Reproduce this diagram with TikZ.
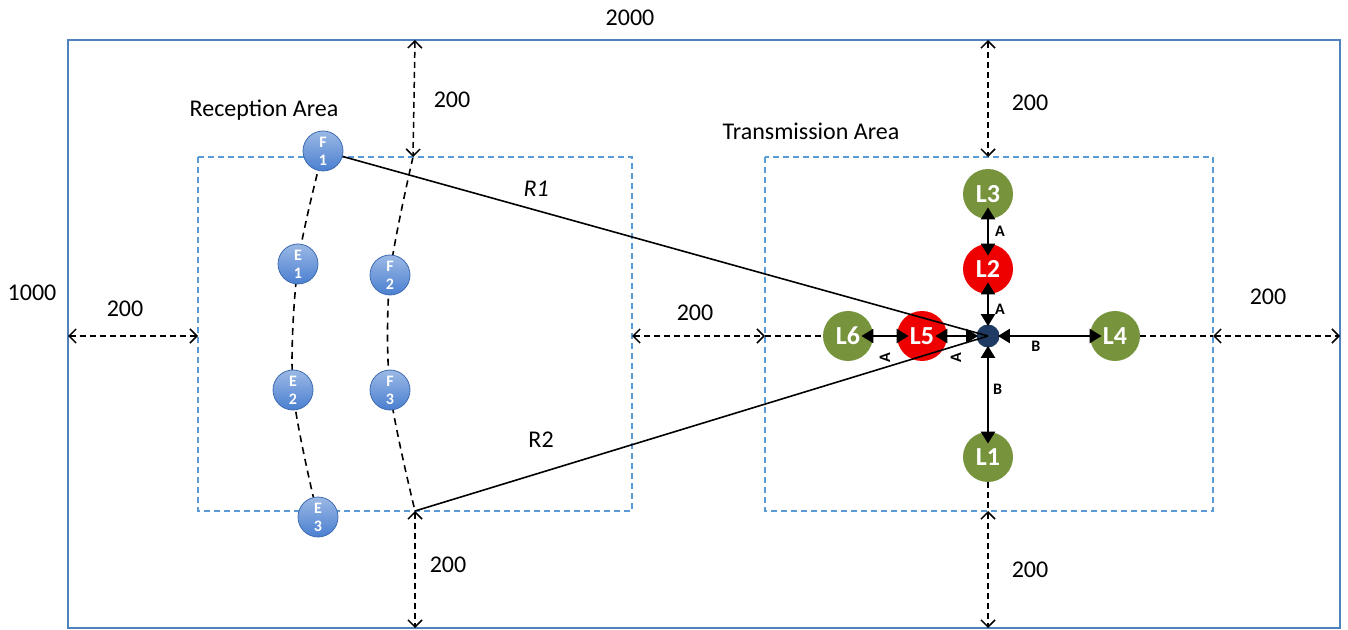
\documentclass[tikz,border=0pt]{standalone}
\usepackage{fontspec}
\setmainfont{Carlito}
\usetikzlibrary{arrows.meta,backgrounds}
\definecolor{frameblue}{HTML}{4F81BD}
\definecolor{areablue}{HTML}{5B9BD5}
\definecolor{ledgreen}{HTML}{77933C}
\definecolor{ledred}{HTML}{EE0000}
\definecolor{hubnavy}{HTML}{1F3B63}
\definecolor{ballblue}{HTML}{4A7FD0}
\tikzset{
  dim/.style={line width=0.75pt,dash pattern=on 3pt off 2pt,
    {Straight Barb[length=3.5pt,width=7pt]}-{Straight Barb[length=3.5pt,width=7pt]}},
  guide/.style={line width=0.75pt,dash pattern=on 3pt off 2pt},
  curve/.style={line width=0.8pt,dash pattern=on 3.5pt off 2.5pt},
  area/.style={draw=areablue,line width=0.8pt,dash pattern=on 3pt off 2pt},
  link/.style={line width=1.2pt,shorten <=-6pt,shorten >=-6pt,
    {Triangle[length=6pt,width=7pt]}-{Triangle[length=6pt,width=7pt]}},
  from hub/.style={shorten <=-1pt},
  to hub/.style={shorten >=-1pt},
  ray/.style={line width=0.8pt},
  ball/.style={circle,minimum size=20pt,inner sep=0pt,top color=ballblue!55!white,
    bottom color=ballblue,draw=ballblue!85!black,line width=0.4pt,text=white,
    align=center,font=\fontsize{8}{9}\selectfont\bfseries},
  led/.style={circle,minimum size=25pt,inner sep=0pt,text=white,
    font=\fontsize{13}{13}\selectfont\bfseries},
  lbl/.style={font=\fontsize{8}{8}\selectfont\bfseries,inner sep=1pt},
  txt/.style={font=\fontsize{12}{14}\selectfont}
}
\begin{document}
\begin{tikzpicture}[x=0.5pt,y=-0.5pt]
    \useasboundingbox (0,0) rectangle (1348,630);
    % outer room and the two areas
    \draw[frameblue,line width=1pt] (68,40) rectangle (1340,628);
    \draw[area] (198,157) rectangle (632,511);
    \draw[area] (765,157) rectangle (1213,511);
    \node[txt] (size w) at (630,18) {2000};
    \node[txt] (size h) at (32,293) {1000};
    \node[txt] (recv) at (264,110) {Reception Area};
    \node[txt] (trans) at (811,131) {Transmission Area};
    % receivers
    \node[ball] (f1) at (323,151) {F\\1};
    \node[ball] (e1) at (298,264) {E\\1};
    \node[ball] (f2) at (390,275) {F\\2};
    \node[ball] (e2) at (293,390) {E\\2};
    \node[ball] (f3) at (390,390) {F\\3};
    \node[ball] (e3) at (318,517) {E\\3};
    \coordinate (rtop) at (413,157);
    \coordinate (rbot) at (415,511);
    % transmitters
    \node[circle,fill=hubnavy,minimum size=11.5pt,inner sep=0pt] (hub) at (988,336) {};
    \node[led,fill=ledgreen] (l3) at (988,194) {L3};
    \node[led,fill=ledred] (l2) at (988,269) {L2};
    \node[led,fill=ledgreen] (l4) at (1115,336) {L4};
    \node[led,fill=ledgreen] (l1) at (988,457) {L1};
    \node[led,fill=ledred] (l5) at (922,336) {L5};
    \node[led,fill=ledgreen] (l6) at (848,336) {L6};
    % arcs through the receivers
    \begin{scope}[on background layer]
      \draw[curve] plot[smooth] coordinates {(f1) (e1) (e2) (e3)};
      \draw[curve] plot[smooth] coordinates {(rtop) (f2) (f3) (rbot)};
    \end{scope}
    % rays
    \draw[ray] (f1) -- node[pos=.3,above=3pt,txt] (r1) {\itshape R1} (hub.center);
    \draw[ray] (rbot) -- node[pos=.22,above=9pt,txt] (r2) {R2} (hub.center);
    % links between the lamps
    \draw[link] (l3) -- node[midway,right=2pt,lbl] {A} (l2);
    \draw[link,to hub] (l2) -- node[midway,right=2pt,lbl] {A} (hub);
    \draw[link,from hub] (hub) -- node[pos=.4,below=1pt,lbl] {B} (l4);
    \draw[link,from hub] (hub) -- node[midway,right=1pt,lbl] {B} (l1);
    \draw[link] (l6) -- node[midway,yshift=-11pt,rotate=90,lbl] {A} (l5);
    \draw[link,to hub] (l5) -- node[pos=.3,yshift=-11pt,rotate=90,lbl] {A} (hub);
    % distances to the walls
    \coordinate (tl) at (415,40);
    \coordinate (bl) at (415,628);
    \coordinate (tr) at (988,40);
    \coordinate (tr2) at (988,157);
    \coordinate (br) at (988,628);
    \coordinate (br2) at (988,511);
    \coordinate (wl) at (68,336);
    \coordinate (rl) at (198,336);
    \coordinate (rr) at (632,336);
    \coordinate (tl2) at (765,336);
    \coordinate (tr3) at (1213,336);
    \coordinate (wr) at (1340,336);
    \draw[dim] (tl) -- (rtop);
    \draw[dim] (rbot) -- (bl);
    \draw[dim] (tr) -- (tr2);
    \draw[dim] (br2) -- (br);
    \draw[guide] (l1) -- (br2);
    \draw[dim] (wl) -- (rl);
    \draw[dim] (rr) -- (tl2);
    \draw[guide] (tl2) -- (l6);
    \draw[dim] (tr3) -- (wr);
    \draw[guide] (l4) -- (tr3);
    \node[txt] (d1) at (452,100) {200};
    \node[txt] (d2) at (448,565) {200};
    \node[txt] (d3) at (1030,103) {200};
    \node[txt] (d4) at (1030,570) {200};
    \node[txt] (d5) at (125,309) {200};
    \node[txt] (d6) at (695,313) {200};
    \node[txt] (d7) at (1268,297) {200};
\end{tikzpicture}
\end{document}
